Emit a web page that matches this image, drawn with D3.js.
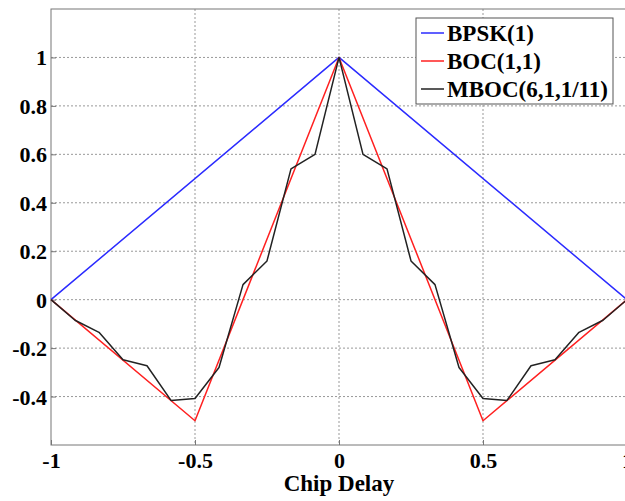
<!DOCTYPE html>
<html lang="en">
<head>
<meta charset="UTF-8">
<title>Correlation functions</title>
<script src="https://d3js.org/d3.v7.min.js"></script>
<style>
  body { margin: 0; background: #fff; }
</style>
</head>
<body>
<svg width="625" height="501"></svg>
<script>
// data
const bpskX = [-1, 0, 1];
const bpskY = [0, 1, 0];
const bocX = [-1, -0.5, 0, 0.5, 1];
const bocY = [0, -0.5, 1, -0.5, 0];
const mbocX = [-1, -11/12, -10/12, -9/12, -8/12, -7/12, -6/12, -5/12, -4/12, -3/12, -2/12, -1/12, 0,
               1/12, 2/12, 3/12, 4/12, 5/12, 6/12, 7/12, 8/12, 9/12, 10/12, 11/12, 1];
const mbocY = [0, -0.085, -0.135, -0.248, -0.273, -0.416, -0.408, -0.28, 0.062, 0.16, 0.54, 0.6, 1,
               0.6, 0.54, 0.16, 0.062, -0.28, -0.408, -0.416, -0.273, -0.248, -0.135, -0.085, 0];
const xTicks = [-1, -0.5, 0, 0.5, 1];
const yTicks = [-0.4, -0.2, 0, 0.2, 0.4, 0.6, 0.8, 1];
const seriesNames = ["BPSK(1)", "BOC(1,1)", "MBOC(6,1,1/11)"];
const seriesColors = ["#2b2bff", "#ff2020", "#222"];

const font = "'Liberation Serif', 'Times New Roman', serif";
const svg = d3.select("svg");
const m = {left: 51, top: 9, right: 627, bottom: 445};

const x = d3.scaleLinear().domain([-1, 1]).range([m.left, m.right]);
const y = d3.scaleLinear().domain([-0.6, 1.2]).range([m.bottom, m.top]);

// grid
const grid = svg.append("g").attr("stroke", "#999").attr("stroke-dasharray", "2,2").attr("stroke-width", 1);
grid.selectAll(".vg").data(xTicks.slice(1, -1)).enter().append("line")
  .attr("x1", d => x(d)).attr("x2", d => x(d)).attr("y1", m.top).attr("y2", m.bottom);
grid.selectAll(".hg").data(yTicks).enter().append("line")
  .attr("x1", m.left).attr("x2", m.right).attr("y1", d => y(d)).attr("y2", d => y(d));

// axes
const fmt = d => String(d);
const xAxis = svg.append("g").attr("transform", `translate(0,${m.bottom})`)
  .call(d3.axisBottom(x).tickValues(xTicks).tickFormat(fmt).tickSizeInner(-5).tickSizeOuter(0));
const yAxis = svg.append("g").attr("transform", `translate(${m.left},0)`)
  .call(d3.axisLeft(y).tickValues(yTicks).tickFormat(fmt).tickSizeInner(-5).tickSizeOuter(0).tickPadding(4));
svg.selectAll(".domain").remove();
svg.selectAll(".tick line").attr("stroke", "#777");
svg.selectAll(".tick text")
  .attr("font-family", font).attr("font-weight", "bold").attr("font-size", 22).attr("fill", "#000")
  .style("font-family", font);
xAxis.selectAll("text").attr("y", 23).attr("dy", 0);
yAxis.selectAll("text").attr("dy", "0.34em");

// frame
svg.append("rect").attr("x", m.left).attr("y", m.top).attr("width", m.right - m.left).attr("height", m.bottom - m.top)
  .attr("fill", "none").attr("stroke", "#777").attr("stroke-width", 1);

// lines
const line = d3.line().x(d => x(d[0])).y(d => y(d[1]));
const series = [
  d3.zip(bpskX, bpskY),
  d3.zip(bocX, bocY),
  d3.zip(mbocX, mbocY)
];
series.forEach((s, i) => {
  svg.append("path").datum(s).attr("d", line)
    .attr("fill", "none").attr("stroke", seriesColors[i]).attr("stroke-width", 1.5)
    .attr("stroke-linejoin", "round");
});

// x label
svg.append("text").attr("x", x(0)).attr("y", 491).attr("text-anchor", "middle")
  .attr("font-family", font).attr("font-weight", "bold").attr("font-size", 23)
  .text("Chip Delay");

// legend
const lg = svg.append("g");
lg.append("rect").attr("x", 416).attr("y", 18).attr("width", 197).attr("height", 86)
  .attr("fill", "#fff").attr("stroke", "#555").attr("stroke-width", 1);
seriesNames.forEach((n, i) => {
  const cy = 33 + i * 28;
  lg.append("line").attr("x1", 421).attr("x2", 444).attr("y1", cy).attr("y2", cy)
    .attr("stroke", seriesColors[i]).attr("stroke-width", 1.5);
  lg.append("text").attr("x", 447).attr("y", cy + 8)
    .attr("font-family", font).attr("font-weight", "bold").attr("font-size", 23)
    .text(n);
});
</script>
</body>
</html>
